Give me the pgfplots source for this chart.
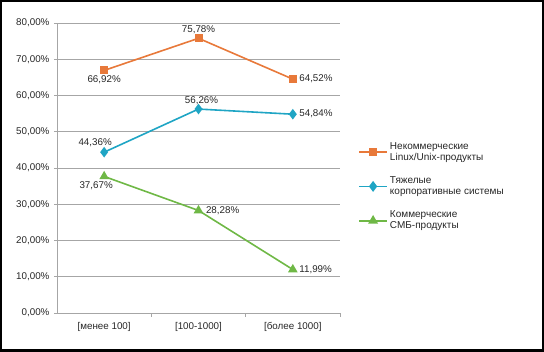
\documentclass[border=0pt]{standalone}
\usepackage{pgfplots}
\pgfplotsset{compat=1.18}
\usepackage{fontspec}
\setmainfont{Liberation Sans}
\definecolor{cOr}{HTML}{E8793A}
\definecolor{cBl}{HTML}{1FA5C4}
\definecolor{cGr}{HTML}{6FB846}
\definecolor{cGrid}{HTML}{A6A6A6}
\definecolor{cTxt}{HTML}{262626}
\begin{document}
\begin{tikzpicture}[font=\fontsize{9.8}{11}\selectfont]
\begin{axis}[
  name=ax,
  at={(0,0)}, anchor=south west,
  scale only axis,
  width=283pt, height=290pt,
  xmin=-0.5, xmax=2.5,
  ymin=0, ymax=80,
  axis lines*=left,
  axis line style={cGrid, line width=0.8pt},
  xtick={0,1,2},
  xticklabels={[менее 100],[100-1000],[более 1000]},
  major x tick style={draw=none},
  minor xtick={0.5,1.5,2.5},
  minor tick length=4pt,
  minor tick style={cGrid, line width=0.8pt},
  ytick={0,10,...,80},
  yticklabels={{0,00\%},{10,00\%},{20,00\%},{30,00\%},{40,00\%},{50,00\%},{60,00\%},{70,00\%},{80,00\%}},
  major tick length=3pt,
  tick align=outside,
  major y tick style={cGrid, line width=0.8pt},
  ymajorgrids,
  grid style={cGrid, line width=0.8pt},
  ticklabel style={text=cTxt},
  yticklabel style={xshift=-1pt},
  xticklabel style={yshift=-3pt},
  clip=false,
  legend style={at={(1.053,0.603)}, anchor=north west, draw=none, fill=none,
    nodes={align=left, anchor=west, text=cTxt}, row sep=11pt,
    font=\fontsize{10}{11}\selectfont},
  legend cell align=left,
  legend image code/.code={
    \draw[mark repeat=2, mark phase=2, #1, line width=1.8pt] plot coordinates {(0pt,0pt) (14pt,0pt) (28pt,0pt)};
  },
]
\addplot[cOr, line width=1.6pt, mark=square*, mark size=3.2pt, mark options={solid}]
  coordinates {(0,66.92) (1,75.78) (2,64.52)};
\addlegendentry{Некоммерческие\\Linux/Unix-продукты}
\addplot[cBl, line width=1.6pt, mark=diamond*, mark size=4pt, mark options={solid}]
  coordinates {(0,44.36) (1,56.26) (2,54.84)};
\addlegendentry{Тяжелые\\корпоративные системы}
\addplot[cGr, line width=1.6pt, mark=triangle*, mark size=4pt, mark options={solid}]
  coordinates {(0,37.67) (1,28.28) (2,11.99)};
\addlegendentry{Коммерческие\\СМБ-продукты}

\begin{scope}[every node/.style={text=cTxt}]
\node[below, yshift=-2pt] at (axis cs:0,66.92) {66,92\%};
\node[above, yshift=1pt] at (axis cs:1,75.78) {75,78\%};
\node[right, xshift=3pt] at (axis cs:2,64.52) {64,52\%};
\node[above, xshift=-9pt, yshift=2pt] at (axis cs:0,44.36) {44,36\%};
\node[above, xshift=3pt, yshift=1pt] at (axis cs:1,56.26) {56,26\%};
\node[right, xshift=3pt] at (axis cs:2,54.84) {54,84\%};
\node[below, xshift=-8pt, yshift=-2pt] at (axis cs:0,37.67) {37,67\%};
\node[right, xshift=4pt] at (axis cs:1,28.28) {28,28\%};
\node[right, xshift=3pt] at (axis cs:2,11.99) {11,99\%};
\end{scope}
\end{axis}
\path[use as bounding box] (-57pt,-39pt) rectangle (487pt,313pt);
\draw[black, line width=2.5pt] (-55.75pt,-37.75pt) rectangle (485.75pt,311.75pt);
\end{tikzpicture}
\end{document}
